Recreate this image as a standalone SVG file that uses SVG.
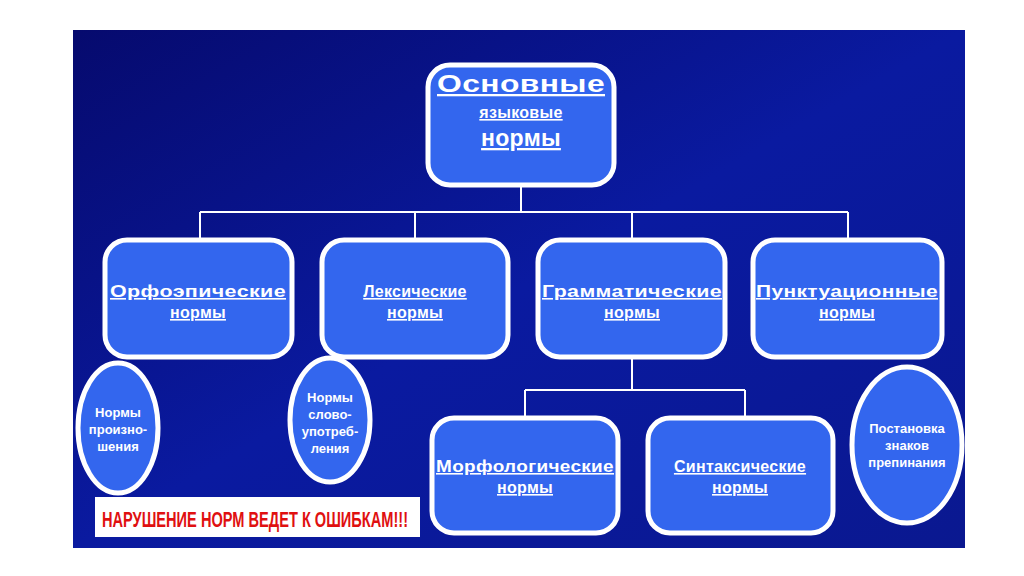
<svg xmlns="http://www.w3.org/2000/svg" width="1024" height="576" viewBox="0 0 1024 576">
<defs>
<linearGradient id="bg" x1="0" y1="0" x2="1" y2="1">
<stop offset="0" stop-color="#060a6e"/><stop offset="0.5" stop-color="#0a1aa0"/><stop offset="1" stop-color="#0a1890"/>
</linearGradient>
<style>
.box{fill:#3366ee;stroke:#fff;stroke-width:5}
.t{fill:#fff;font-family:"Liberation Sans",Arial,sans-serif;font-weight:bold;text-anchor:middle;text-decoration:underline;font-size:16px;letter-spacing:0.3px}
.big{font-size:23px}
.e{fill:#fff;font-family:"Liberation Sans",Arial,sans-serif;font-weight:bold;text-anchor:middle;font-size:13px}
.c{stroke:#fff;stroke-width:2;fill:none}
</style>
</defs>
<rect width="1024" height="576" fill="#fff"/>
<rect x="73" y="30" width="892" height="518" fill="url(#bg)"/>
<g id="connectors" class="c">
<path d="M521 185V212M200 212H848M200 212V240M415 212V240M632 212V240M848 212V240"/>
<path d="M632 357V390M525 390H745M525 390V418M745 390V418"/>
</g>
<g id="root"><rect class="box" x="428" y="65" width="186" height="120" rx="22"/>
<text class="t big" x="521" y="92" textLength="168" lengthAdjust="spacingAndGlyphs">Основные</text>
<text class="t" x="521" y="118">языковые</text>
<text class="t big" x="521" y="146">нормы</text></g>
<g id="orfo"><rect class="box" x="105" y="240" width="187" height="117" rx="22"/>
<text class="t" x="198" y="297" textLength="176" lengthAdjust="spacingAndGlyphs">Орфоэпические</text><text class="t" x="198" y="318">нормы</text></g>
<g id="leks"><rect class="box" x="322" y="240" width="186" height="117" rx="22"/>
<text class="t" x="415" y="297">Лексические</text><text class="t" x="415" y="318">нормы</text></g>
<g id="gram"><rect class="box" x="538" y="240" width="187" height="117" rx="22"/>
<text class="t" x="632" y="297" textLength="180" lengthAdjust="spacingAndGlyphs">Грамматические</text><text class="t" x="632" y="318">нормы</text></g>
<g id="punkt"><rect class="box" x="753" y="240" width="189" height="117" rx="22"/>
<text class="t" x="847" y="297" textLength="182" lengthAdjust="spacingAndGlyphs">Пунктуационные</text><text class="t" x="847" y="318">нормы</text></g>
<g id="morf"><rect class="box" x="432" y="418" width="186" height="115" rx="22"/>
<text class="t" x="525" y="472" textLength="178" lengthAdjust="spacingAndGlyphs">Морфологические</text><text class="t" x="525" y="493">нормы</text></g>
<g id="sint"><rect class="box" x="648" y="418" width="185" height="115" rx="22"/>
<text class="t" x="740" y="472">Синтаксические</text><text class="t" x="740" y="493">нормы</text></g>
<g id="e1"><ellipse class="box" cx="118" cy="428" rx="40" ry="65"/>
<text class="e" x="118" y="417">Нормы</text><text class="e" x="118" y="434">произно-</text><text class="e" x="118" y="451">шения</text></g>
<g id="e2"><ellipse class="box" cx="330" cy="420" rx="40" ry="62"/>
<text class="e" x="330" y="402">Нормы</text><text class="e" x="330" y="419">слово-</text><text class="e" x="330" y="436">употреб-</text><text class="e" x="330" y="453">ления</text></g>
<g id="e3"><ellipse class="box" cx="907" cy="445" rx="55" ry="78"/>
<text class="e" x="907" y="433">Постановка</text><text class="e" x="907" y="450">знаков</text><text class="e" x="907" y="467">препинания</text></g>
<g id="note"><rect x="95" y="497" width="325" height="40" fill="#fff"/>
<text x="255" y="527" fill="#e01010" font-family="Liberation Sans Narrow,Liberation Sans,sans-serif" font-weight="bold" font-size="22" text-anchor="middle" textLength="306" lengthAdjust="spacingAndGlyphs">НАРУШЕНИЕ НОРМ ВЕДЕТ К ОШИБКАМ!!!</text></g>
</svg>
